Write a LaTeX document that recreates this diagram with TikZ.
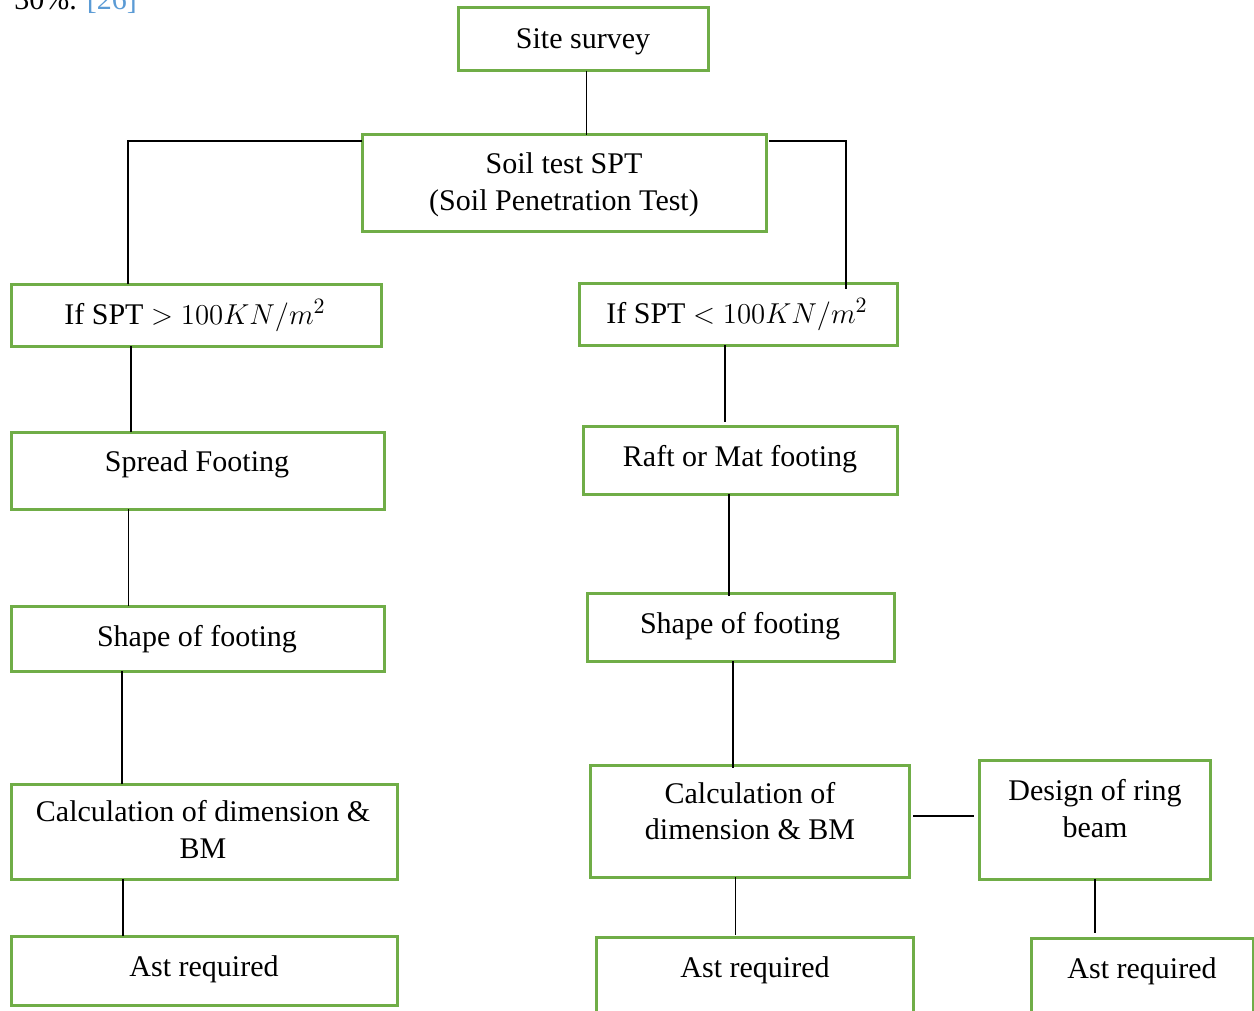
\documentclass[tikz,border=0pt]{standalone}
\usepackage{fontspec}
\setmainfont{Liberation Serif}
\usetikzlibrary{fit}
\definecolor{boxgreen}{HTML}{70AD47}
\definecolor{reflink}{HTML}{5B9BD5}
\begin{document}
\begin{tikzpicture}[x=0.5pt,y=-0.5pt,
  box/.style={draw=boxgreen,line width=1.5pt,inner sep=0pt,outer sep=0pt},
  txt/.style={font=\fontsize{15}{18.5}\selectfont,inner sep=0pt,anchor=base},
  conn/.style={line width=0.7pt,black}]
\useasboundingbox (0,0) rectangle (1254,1011);
\clip (0,0) rectangle (1254,1011);

% partial text at the top
\node[txt,anchor=base west] (cut) at (14,10) {30\%. \textcolor{reflink}{[26]}};

% boxes
\node[box,fit={(458,8) (708,71)}] (site) {};
\node[box,fit={(362,135) (766,231)}] (soil) {};
\node[box,fit={(11,284) (381,346)}] (ifgt) {};
\node[box,fit={(579,283) (897,345)}] (iflt) {};
\node[box,fit={(11,432) (384,509)}] (spread) {};
\node[box,fit={(583,426) (897,494)}] (raft) {};
\node[box,fit={(11,606) (384,671)}] (shapeL) {};
\node[box,fit={(587,593) (894,661)}] (shapeR) {};
\node[box,fit={(11,784) (397,879)}] (calcL) {};
\node[box,fit={(590,765) (909,877)}] (calcR) {};
\node[box,fit={(979,760) (1210,879)}] (ring) {};
\node[box,fit={(11,936) (397,1005)}] (astL) {};
\node[box,fit={(596,937) (913,1040)}] (astM) {};
\node[box,fit={(1031,938) (1253,1040)}] (astR) {};

% texts
\node[txt] (tsite) at (583,49) {Site survey};
\node[txt] (tsoil1) at (564,174) {Soil test SPT};
\node[txt] (tsoil2) at (564,211) {(Soil Penetration Test)};
\node[txt] (tifgt) at (195,324) {If SPT $> 100KN/m^2$};
\node[txt] (tiflt) at (737,323) {If SPT $< 100KN/m^2$};
\node[txt] (tspread) at (197,471) {Spread Footing};
\node[txt] (traft) at (740,466) {Raft or Mat footing};
\node[txt] (tshapeL) at (197,646) {Shape of footing};
\node[txt] (tshapeR) at (740,633) {Shape of footing};
\node[txt] (tcalcL1) at (203,821) {Calculation of dimension \&};
\node[txt] (tcalcL2) at (203,858) {BM};
\node[txt] (tcalcR1) at (750,803) {Calculation of};
\node[txt] (tcalcR2) at (750,839) {dimension \& BM};
\node[txt] (tring1) at (1095,800) {Design of ring};
\node[txt] (tring2) at (1095,837) {beam};
\node[txt] (tastL) at (204,976) {Ast required};
\node[txt] (tastM) at (755,977) {Ast required};
\node[txt] (tastR) at (1142,978) {Ast required};

% connectors
\draw[conn] ([xshift=1.75pt]site.south) -- ([xshift=11.25pt]soil.north);
\draw[conn] ([yshift=-3pt]soil.north west) -| ([xshift=-34pt]ifgt.north);
\draw[conn] ([yshift=-3pt,xshift=1.5pt]soil.north east) -| ([xshift=54pt,yshift=-3pt]iflt.north);
\draw[conn] ([xshift=-32.5pt]ifgt.south) -- ([xshift=-33.25pt]spread.north);
\draw[conn] ([xshift=-34.5pt]spread.south) -- ([xshift=-34.5pt]shapeL.north);
\draw[conn] ([xshift=-37.75pt]shapeL.south) -- ([xshift=-41pt]calcL.north);
\draw[conn] ([xshift=-40.5pt]calcL.south) -- ([xshift=-40.5pt]astL.north);
\draw[conn] ([xshift=-6.5pt]iflt.south) -- ([xshift=-7.5pt,yshift=2pt]raft.north);
\draw[conn] ([xshift=-5.5pt]raft.south) -- ([xshift=-5.75pt,yshift=-1.5pt]shapeR.north);
\draw[conn] ([xshift=-3.75pt]shapeR.south) -- ([xshift=-8.25pt,yshift=-1.5pt]calcR.north);
\draw[conn] ([xshift=-7pt]calcR.south) -- ([xshift=-9.5pt,yshift=1pt]astM.north);
\draw[conn] ([xshift=2pt,yshift=2.5pt]calcR.east) -- ([xshift=-2.5pt,yshift=1.75pt]ring.west);
\draw[conn] ([xshift=0.25pt]ring.south) -- ([xshift=-23.5pt,yshift=2.5pt]astR.north);
\end{tikzpicture}
\end{document}
